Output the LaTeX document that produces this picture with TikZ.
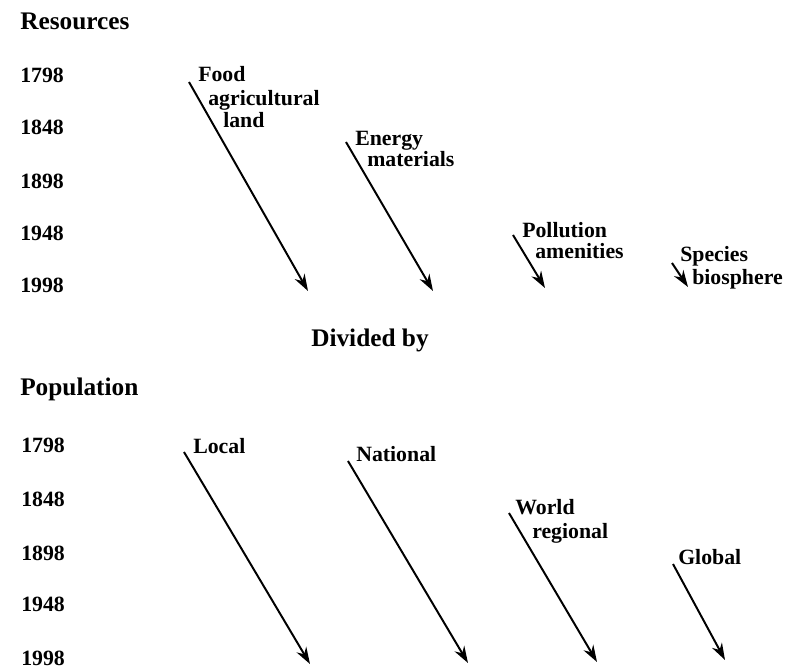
\documentclass[tikz,border=0pt]{standalone}
\usepackage{fontspec}
\setmainfont{Liberation Serif}
\usepackage{tikz}
\usetikzlibrary{arrows.meta}
\tikzset{
  trend/.style={line width=1.4pt,-{Stealth[length=4.2mm,width=2.8mm]}},
  lbl/.style={font=\fontsize{15.5}{18}\selectfont\bfseries,anchor=base west,inner sep=0pt},
  hd/.style={font=\fontsize{18}{21}\selectfont\bfseries,anchor=base west,inner sep=0pt}
}

\begin{document}
\begin{tikzpicture}[x=0.025cm,y=-0.025cm]
\useasboundingbox (0,0) rectangle (785,669);
\node[hd] (res) at (20,30) {Resources};
\foreach \yr/\bl in {1798/83,1848/135,1898/189,1948/241,1998/293}{\node[lbl] (r\yr) at (20,\bl) {\yr};}
\coordinate (food-s) at (189,82); \coordinate (food-e) at (308,291);
\draw[trend] (food-s) -- (food-e);
\node[lbl] (food) at (198,82) {Food}; \node[lbl] (agri) at (208,106) {agricultural}; \node[lbl] (land) at (223,128) {land};
\coordinate (energy-s) at (346,142); \coordinate (energy-e) at (433,291);
\draw[trend] (energy-s) -- (energy-e);
\node[lbl] (energy) at (355,146) {Energy}; \node[lbl] (mat) at (367,167) {materials};
\coordinate (poll-s) at (513,235); \coordinate (poll-e) at (545,288);
\draw[trend] (poll-s) -- (poll-e);
\node[lbl] (poll) at (522,238) {Pollution}; \node[lbl] (amen) at (535,259) {amenities};
\coordinate (spec-s) at (672,263); \coordinate (spec-e) at (688,287);
\draw[trend] (spec-s) -- (spec-e);
\node[lbl] (spec) at (680,262) {Species}; \node[lbl] (bios) at (692,285) {biosphere};
\node[hd,anchor=base] (div) at (370,347) {Divided by};
\node[hd] (pop) at (20,396) {Population};
\foreach \yr/\bl in {1798/453,1848/507,1898/561,1948/612,1998/665}{\node[lbl] (p\yr) at (21,\bl) {\yr};}
\coordinate (local-s) at (184,452); \coordinate (local-e) at (310,664);
\draw[trend] (local-s) -- (local-e);
\node[lbl] (local) at (193,454) {Local};
\coordinate (nat-s) at (348,461); \coordinate (nat-e) at (468,663);
\draw[trend] (nat-s) -- (nat-e);
\node[lbl] (nat) at (356,462) {National};
\coordinate (world-s) at (509,513); \coordinate (world-e) at (597,662);
\draw[trend] (world-s) -- (world-e);
\node[lbl] (world) at (515,515) {World}; \node[lbl] (reg) at (532,539) {regional};
\coordinate (glob-s) at (673,564); \coordinate (glob-e) at (725,660);
\draw[trend] (glob-s) -- (glob-e);
\node[lbl] (glob) at (678,565) {Global};
\end{tikzpicture}
\end{document}
